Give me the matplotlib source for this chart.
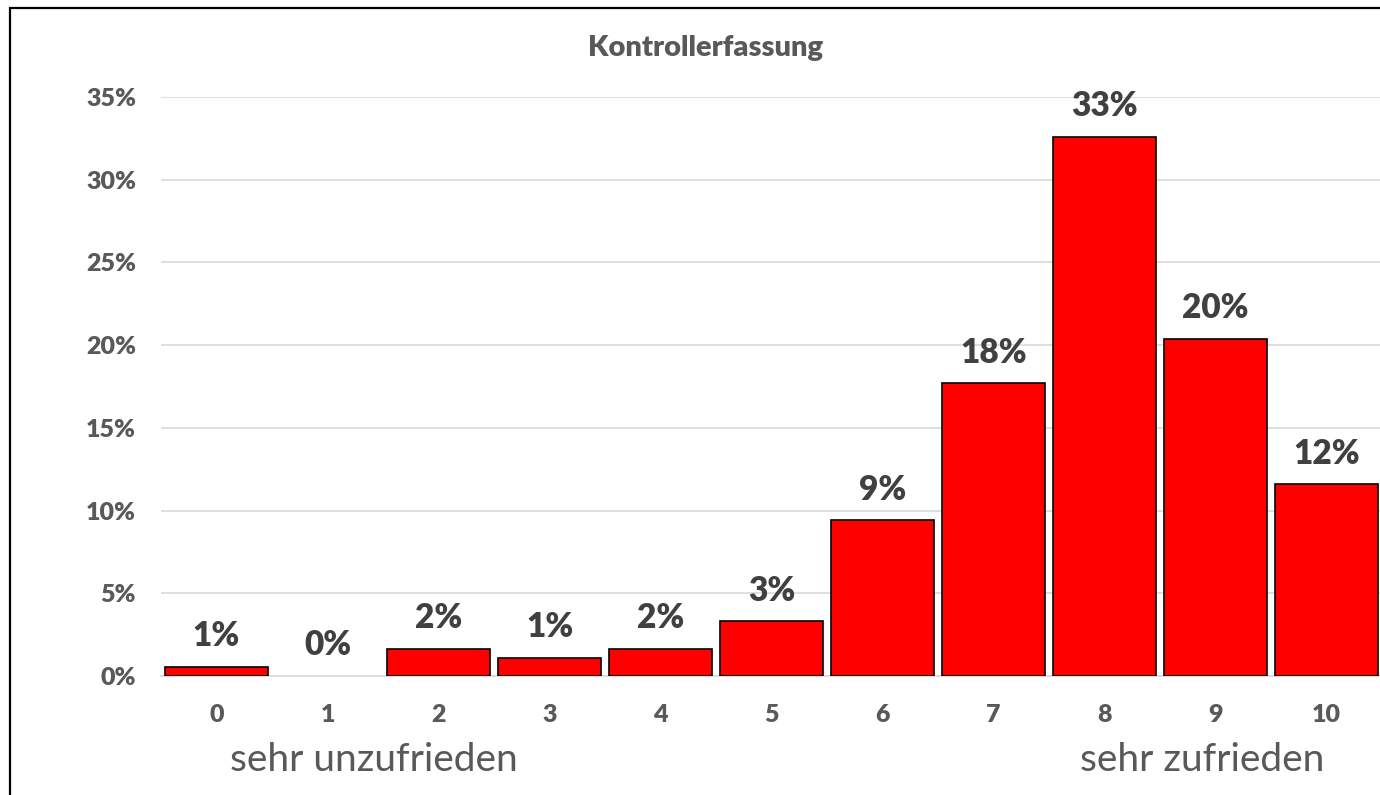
import matplotlib

matplotlib.use("Agg")
import matplotlib.pyplot as plt
from matplotlib.patches import Rectangle
from matplotlib.ticker import FuncFormatter

plt.rcParams["font.family"] = ["Lato", "DejaVu Sans"]

# Data
categories = ["0", "1", "2", "3", "4", "5", "6", "7", "8", "9", "10"]
values = [0.55, 0.0, 1.65, 1.1, 1.65, 3.3, 9.4, 17.7, 32.6, 20.4, 11.6]
labels = ["1%", "0%", "2%", "1%", "2%", "3%", "9%", "18%", "33%", "20%", "12%"]
yticks = [0, 5, 10, 15, 20, 25, 30, 35]

W, H = 1380, 795
fig = plt.figure(figsize=(W / 100, H / 100), dpi=100)
ax = fig.add_axes([161 / W, (H - 676) / H, 1221 / W, (676 - 97) / H])

x = range(len(categories))
edges = ["black" if v > 0 else "none" for v in values]
ax.bar(x, values, width=0.92, color="#FF0000", edgecolor=edges, linewidth=1.2, zorder=3)

for i, (v, lab) in enumerate(zip(values, labels)):
    ax.annotate(lab, (i, v), xytext=(0, 22), textcoords="offset points",
                ha="center", va="center", fontsize=24, fontweight="heavy",
                color="#404040")

ax.set_xlim(-0.5, 10.5)
ax.set_ylim(0, 35)
ax.set_xticks(list(x))
ax.set_xticklabels(categories)
ax.set_yticks(yticks)
ax.yaxis.set_major_formatter(FuncFormatter(lambda v, p: f"{v:.0f}%"))
ax.tick_params(axis="both", length=0, labelcolor="#595959", labelsize=18)
ax.tick_params(axis="y", pad=18)
ax.tick_params(axis="x", pad=20)
for lab in ax.get_xticklabels() + ax.get_yticklabels():
    lab.set_fontweight("heavy")

ax.grid(axis="y", color="#D9D9D9", linewidth=1.2, zorder=0)
for s in ["top", "right", "left"]:
    ax.spines[s].set_visible(False)
ax.spines["bottom"].set_color("#D9D9D9")
ax.spines["bottom"].set_linewidth(1.2)

fig.text(706 / W, 1 - 48 / H, "Kontrollerfassung", ha="center", va="center",
         fontsize=21, fontweight="heavy", color="#595959")
fig.text(374 / W, 1 - 760 / H, "sehr unzufrieden", ha="center", va="center",
         fontsize=28, color="#595959")
fig.text(1202 / W, 1 - 760 / H, "sehr zufrieden", ha="center", va="center",
         fontsize=28, color="#595959")

# outer frame (right and bottom edges fall outside the picture)
fig.patches.append(Rectangle((10 / W, -0.1), 1.2, 1.1 - 8 / H, transform=fig.transFigure,
                             fill=False, edgecolor="black", linewidth=1.6))

fig.savefig("out.png", dpi=100)
